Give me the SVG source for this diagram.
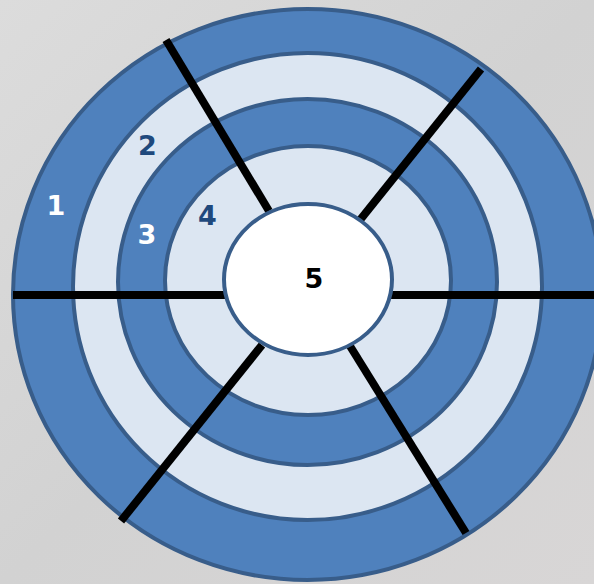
<svg xmlns="http://www.w3.org/2000/svg" width="594" height="584" viewBox="0 0 594 584">
  <defs>
    <linearGradient id="bg" x1="0" y1="0" x2="1" y2="1">
      <stop offset="0" stop-color="#dcdcdc"/>
      <stop offset="0.5" stop-color="#d2d2d2"/>
      <stop offset="1" stop-color="#d8d6d6"/>
    </linearGradient>
  </defs>
  <style>
    .ring { stroke: #385D8A; stroke-width: 4; }
    .dark { fill: #4F81BD; }
    .light { fill: #DCE6F2; }
    .core { fill: #FFFFFF; }
    .spoke { stroke: #000000; stroke-width: 8; fill: none; }
    .lbl { font-family: "DejaVu Sans", "Liberation Sans", sans-serif; font-weight: bold; font-size: 27px; text-anchor: middle; }
  </style>
  <rect x="0" y="0" width="594" height="584" fill="url(#bg)"/>
  <g id="ring1">
    <ellipse class="ring dark" cx="307.5" cy="294.5" rx="294.5" ry="285.5"/>
    <text class="lbl" x="56" y="215" fill="#FFFFFF">1</text>
  </g>
  <g id="ring2">
    <ellipse class="ring light" cx="307.5" cy="286.5" rx="234.5" ry="233.5"/>
    <text class="lbl" x="147.5" y="155" fill="#1F497D">2</text>
  </g>
  <g id="ring3">
    <ellipse class="ring dark" cx="307.5" cy="282" rx="189.5" ry="183"/>
    <text class="lbl" x="147" y="244" fill="#FFFFFF">3</text>
  </g>
  <g id="ring4">
    <ellipse class="ring light" cx="308" cy="280.5" rx="143" ry="134.5"/>
    <text class="lbl" x="207.5" y="225" fill="#1F497D">4</text>
  </g>
  <g id="connectors">
    <line class="spoke" x1="13" y1="295" x2="226" y2="295"/>
    <line class="spoke" x1="390" y1="295" x2="600" y2="295"/>
    <line class="spoke" x1="166" y1="40" x2="269" y2="211"/>
    <line class="spoke" x1="481" y1="69" x2="360" y2="220"/>
    <line class="spoke" x1="262" y1="345" x2="121" y2="521"/>
    <line class="spoke" x1="350" y1="346" x2="466" y2="533"/>
  </g>
  <g id="center">
    <ellipse class="ring core" cx="308" cy="279.5" rx="84" ry="75.5"/>
    <text class="lbl" x="314" y="288" fill="#000000">5</text>
  </g>
</svg>
